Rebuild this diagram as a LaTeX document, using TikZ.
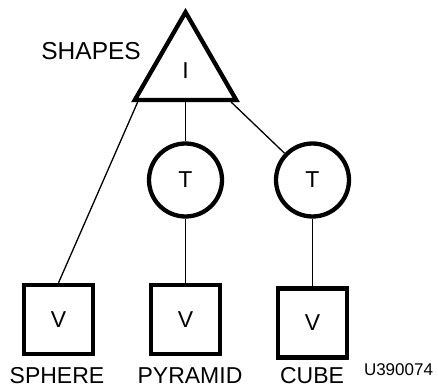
\documentclass[tikz,border=0pt]{standalone}
\usepackage{fontspec}
\setmainfont{Liberation Sans}
\usepackage{tikz}
\usetikzlibrary{positioning,shapes.geometric,calc}
\tikzset{
  tri/.style={regular polygon,regular polygon sides=3,draw,line width=4.3pt,minimum size=117pt,inner sep=0pt,font=\fontsize{23}{23}\selectfont},
  tnode/.style={circle,draw,line width=4.3pt,minimum size=73pt,inner sep=0pt,font=\fontsize{23}{23}\selectfont},
  vbox/.style={rectangle,draw,line width=4.3pt,minimum size=69pt,inner sep=0pt,font=\fontsize{23}{23}\selectfont},
  lbl/.style={inner sep=0pt,anchor=base,font=\fontsize{23}{23}\selectfont},
  tag/.style={inner sep=0pt,anchor=base,font=\fontsize{17}{17}\selectfont},
  link/.style={line width=1.3pt},
}
\begin{document}
\begin{tikzpicture}[x=1pt,y=-1pt]
  \useasboundingbox (0,0) rectangle (438,390);
  \node[tri] (shapes) at (185.5,70.7) {I};
  \node[lbl,anchor=base east,font=\fontsize{24.5}{24.5}\selectfont] (title) at (141,60) {SHAPES};
  \node[tnode] (t1) at (185.5,180) {T};
  \node[tnode] (t2) at (312.5,180) {T};
  \node[vbox] (v1) at (58.5,319.5) {V};
  \node[vbox] (v2) at (185.5,319.5) {V};
  \node[vbox] (v3) at (312.5,323) {V};
  \node[lbl] (sphere) at (57,383) {SPHERE};
  \node[lbl] (pyramid) at (190,383) {PYRAMID};
  \node[lbl] (cube) at (312,383) {CUBE};
  \node[tag] (code) at (398.5,375) {U390074};
  \draw[link] ($(shapes.corner 2)!0.06!(shapes.corner 3)$) -- (v1.north);
  \draw[link] (shapes.side 2) -- (t1);
  \draw[link] ($(shapes.corner 2)!0.92!(shapes.corner 3)$) -- (t2);
  \draw[link] (t1) -- (v2);
  \draw[link] (t2) -- (v3);
\end{tikzpicture}
\end{document}
